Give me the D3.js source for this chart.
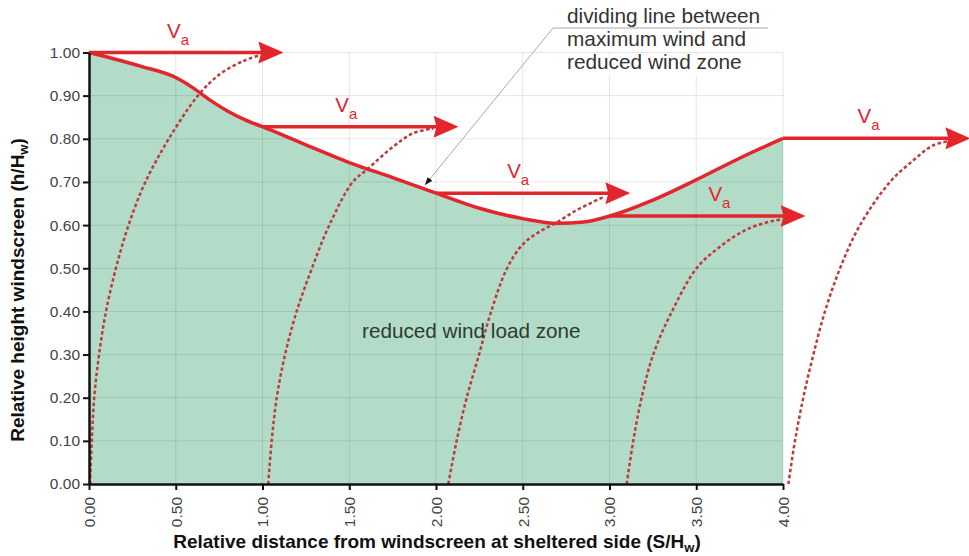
<!DOCTYPE html>
<html>
<head>
<meta charset="utf-8">
<script src="https://cdn.jsdelivr.net/npm/d3@7"></script>
<style>
  html, body { margin: 0; padding: 0; background: #fff; }
  svg { display: block; font-family: "Liberation Sans", Arial, sans-serif; }
</style>
</head>
<body>
<svg id="chart" width="969" height="556"></svg>
<script>
// tick values
const xTicks = [0, 0.5, 1.0, 1.5, 2.0, 2.5, 3.0, 3.5, 4.0];
const yTicks = [0, 0.1, 0.2, 0.3, 0.4, 0.5, 0.6, 0.7, 0.8, 0.9, 1.0];

// dividing line between maximum wind and reduced wind zone
const divX = [0, 0.3, 0.5, 0.6, 0.7, 0.8, 0.9, 1.0, 1.25, 1.5, 1.75, 2.0, 2.25, 2.5, 2.7, 2.85, 3.0, 3.25, 3.5, 3.75, 4.0];
const divH = [1.0, 0.968, 0.942, 0.918, 0.889, 0.864, 0.844, 0.828, 0.786, 0.745, 0.710, 0.674, 0.639, 0.615, 0.604, 0.607, 0.621, 0.658, 0.705, 0.755, 0.801];

// Va arrows
const arrowFromX = [0, 1.0, 2.0, 3.0, 4.0];
const arrowLevel = [1.0, 0.828, 0.674, 0.621, 0.801];
const arrowToX = [1.12, 2.13, 3.12, 4.13, 5.08];
const labelX = [0.45, 1.42, 2.41, 3.57, 4.43];

// dashed wind profiles [S/Hw, h/Hw]
const profile1 = [[0.006, 0], [0.016, 0.1], [0.030, 0.2], [0.058, 0.3], [0.098, 0.4], [0.155, 0.5], [0.228, 0.6], [0.325, 0.7], [0.460, 0.8], [0.628, 0.9], [0.755, 0.95], [0.888, 0.98], [0.986, 0.994]];
const profile2 = [[1.033, 0], [1.053, 0.1], [1.082, 0.2], [1.130, 0.3], [1.197, 0.4], [1.285, 0.5], [1.385, 0.6], [1.520, 0.7], [1.600, 0.728], [1.754, 0.782], [1.869, 0.813], [1.985, 0.824]];
const profile3 = [[2.071, 0], [2.119, 0.1], [2.177, 0.2], [2.248, 0.3], [2.315, 0.396], [2.405, 0.496], [2.495, 0.553], [2.590, 0.583], [2.686, 0.604], [2.813, 0.635], [2.974, 0.667]];
const profile4 = [[3.099, 0], [3.137, 0.1], [3.185, 0.2], [3.252, 0.3], [3.360, 0.4], [3.502, 0.5], [3.637, 0.55], [3.791, 0.59], [3.944, 0.61], [3.992, 0.613]];
const profile5 = [[4.031, 0], [4.069, 0.1], [4.117, 0.2], [4.175, 0.3], [4.242, 0.4], [4.329, 0.5], [4.444, 0.6], [4.617, 0.7], [4.751, 0.75], [4.866, 0.785], [4.962, 0.795]];
const profiles = [profile1, profile2, profile3, profile4, profile5];

const RED = '#e3262b';
const DASH_RED = '#c0393b';

const svg = d3.select('#chart');

const x = d3.scaleLinear().domain([0, 4]).range([89, 783]);
const y = d3.scaleLinear().domain([0, 1]).range([484, 52.5]);

const defs = svg.append('defs');
defs.append('marker')
    .attr('id', 'head')
    .attr('viewBox', '0 0 25 22')
    .attr('refX', 25)
    .attr('refY', 11)
    .attr('markerWidth', 25)
    .attr('markerHeight', 22)
    .attr('markerUnits', 'userSpaceOnUse')
    .attr('orient', 'auto')
    .append('path')
    .attr('d', 'M0,0 L25,11 L0,22 L3,11 Z')
    .attr('fill', RED);

defs.append('marker')
    .attr('id', 'leader')
    .attr('viewBox', '0 0 8 6')
    .attr('refX', 8)
    .attr('refY', 3)
    .attr('markerWidth', 8)
    .attr('markerHeight', 6)
    .attr('markerUnits', 'userSpaceOnUse')
    .attr('orient', 'auto')
    .append('path')
    .attr('d', 'M0,0 L8,3 L0,6 Z')
    .attr('fill', '#111');

const divData = divX.map((v, i) => [v, divH[i]]);

// reduced wind load zone fill
const area = d3.area()
    .x(d => x(d[0]))
    .y0(y(0))
    .y1(d => y(d[1]))
    .curve(d3.curveMonotoneX);

svg.append('path')
    .datum(divData)
    .attr('fill', '#b3dcc8')
    .attr('d', area);

// grid
const grid = svg.append('g');
grid.selectAll('.gx')
    .data(xTicks.slice(1))
    .enter().append('line')
    .attr('x1', d => x(d)).attr('x2', d => x(d))
    .attr('y1', y(0)).attr('y2', y(1))
    .attr('stroke', '#000').attr('stroke-opacity', 0.1).attr('stroke-width', 1);
grid.selectAll('.gy')
    .data(yTicks.slice(1))
    .enter().append('line')
    .attr('x1', x(0)).attr('x2', x(4))
    .attr('y1', d => y(d)).attr('y2', d => y(d))
    .attr('stroke', '#000').attr('stroke-opacity', 0.1).attr('stroke-width', 1);

// white backing behind the annotation text
svg.append('rect')
    .attr('x', 560).attr('y', 55)
    .attr('width', 215).attr('height', 20)
    .attr('fill', '#fff');

// dashed wind profiles
const profileLine = d3.line()
    .x(d => x(d[0]))
    .y(d => y(d[1]))
    .curve(d3.curveCatmullRom.alpha(0.5));

svg.selectAll('.profile')
    .data(profiles)
    .enter().append('path')
    .attr('fill', 'none')
    .attr('stroke', DASH_RED)
    .attr('stroke-width', 2.5)
    .attr('stroke-dasharray', '3.5,2.5')
    .attr('d', profileLine);

// dividing line
const divLine = d3.line()
    .x(d => x(d[0]))
    .y(d => y(d[1]))
    .curve(d3.curveMonotoneX);

svg.append('path')
    .datum(divData)
    .attr('fill', 'none')
    .attr('stroke', RED)
    .attr('stroke-width', 3.5)
    .attr('stroke-linejoin', 'round')
    .attr('d', divLine);

// Va arrows
arrowFromX.forEach((fx, i) => {
    svg.append('line')
        .attr('x1', x(fx))
        .attr('x2', x(arrowToX[i]) - 10)
        .attr('y1', y(arrowLevel[i]))
        .attr('y2', y(arrowLevel[i]))
        .attr('stroke', RED)
        .attr('stroke-width', 3.5);
    svg.append('line')
        .attr('x1', x(arrowToX[i]) - 14)
        .attr('x2', x(arrowToX[i]))
        .attr('y1', y(arrowLevel[i]))
        .attr('y2', y(arrowLevel[i]))
        .attr('stroke', 'none')
        .attr('marker-end', 'url(#head)');

    const lbl = svg.append('text')
        .attr('x', x(labelX[i]))
        .attr('y', y(arrowLevel[i]) - 15)
        .attr('fill', RED)
        .style('font-size', '20.5px');
    lbl.append('tspan').text('V');
    lbl.append('tspan').attr('dy', 7).style('font-size', '15px').text('a');
});

// axes
const xAxis = d3.axisBottom(x)
    .tickValues(xTicks)
    .tickFormat(d3.format('.2f'))
    .tickSize(6)
    .tickSizeOuter(0);

const gx = svg.append('g')
    .attr('transform', `translate(0,${y(0)})`)
    .call(xAxis);
gx.select('.domain').attr('stroke', '#111').attr('stroke-width', 2.5);
gx.selectAll('.tick line').attr('stroke', '#111').attr('stroke-width', 2);
gx.selectAll('.tick text')
    .attr('transform', 'rotate(-90)')
    .attr('x', -13)
    .attr('y', 0)
    .attr('dy', '0.35em')
    .style('text-anchor', 'end')
    .style('font-size', '15.5px')
    .style('font-family', '"Liberation Sans", Arial, sans-serif')
    .attr('fill', '#444');

const yAxis = d3.axisLeft(y)
    .tickValues(yTicks)
    .tickFormat(d3.format('.2f'))
    .tickSize(6)
    .tickSizeOuter(0)
    .tickPadding(3);

const gy = svg.append('g')
    .attr('transform', `translate(${x(0)},0)`)
    .call(yAxis);
gy.select('.domain').attr('stroke', '#111').attr('stroke-width', 2.5);
gy.selectAll('.tick line').attr('stroke', '#111').attr('stroke-width', 2);
gy.selectAll('.tick text')
    .style('font-size', '15.5px')
    .style('font-family', '"Liberation Sans", Arial, sans-serif')
    .attr('fill', '#444');

// axis titles
const xTitle = svg.append('text')
    .attr('x', 437)
    .attr('y', 548)
    .attr('text-anchor', 'middle')
    .style('font-size', '19px')
    .style('font-weight', 'bold')
    .attr('fill', '#111');
xTitle.append('tspan').text('Relative distance from windscreen at sheltered side (S/H');
xTitle.append('tspan').attr('dy', 4).style('font-size', '13px').text('w');
xTitle.append('tspan').attr('dy', -4).text(')');

const yTitle = svg.append('text')
    .attr('transform', 'translate(24,290) rotate(-90)')
    .attr('text-anchor', 'middle')
    .style('font-size', '19px')
    .style('font-weight', 'bold')
    .attr('fill', '#111');
yTitle.append('tspan').text('Relative height windscreen (h/H');
yTitle.append('tspan').attr('dy', 4).style('font-size', '13px').text('w');
yTitle.append('tspan').attr('dy', -4).text(')');

// zone label
svg.append('text')
    .attr('x', 362)
    .attr('y', 338)
    .style('font-size', '20.7px')
    .attr('fill', '#2e3a33')
    .text('reduced wind load zone');

// annotation with leader line
const noteLines = ['dividing line between', 'maximum wind and', 'reduced wind zone'];
svg.append('path')
    .attr('d', 'M768,28 L553,28 L425,185')
    .attr('fill', 'none')
    .attr('stroke', '#a8a8a8')
    .attr('stroke-width', 1)
    .attr('marker-end', 'url(#leader)');

svg.selectAll('.note')
    .data(noteLines)
    .enter().append('text')
    .attr('x', 567)
    .attr('y', (d, i) => 23 + i * 23)
    .style('font-size', '20.8px')
    .attr('fill', '#333')
    .text(d => d);
</script>
</body>
</html>
